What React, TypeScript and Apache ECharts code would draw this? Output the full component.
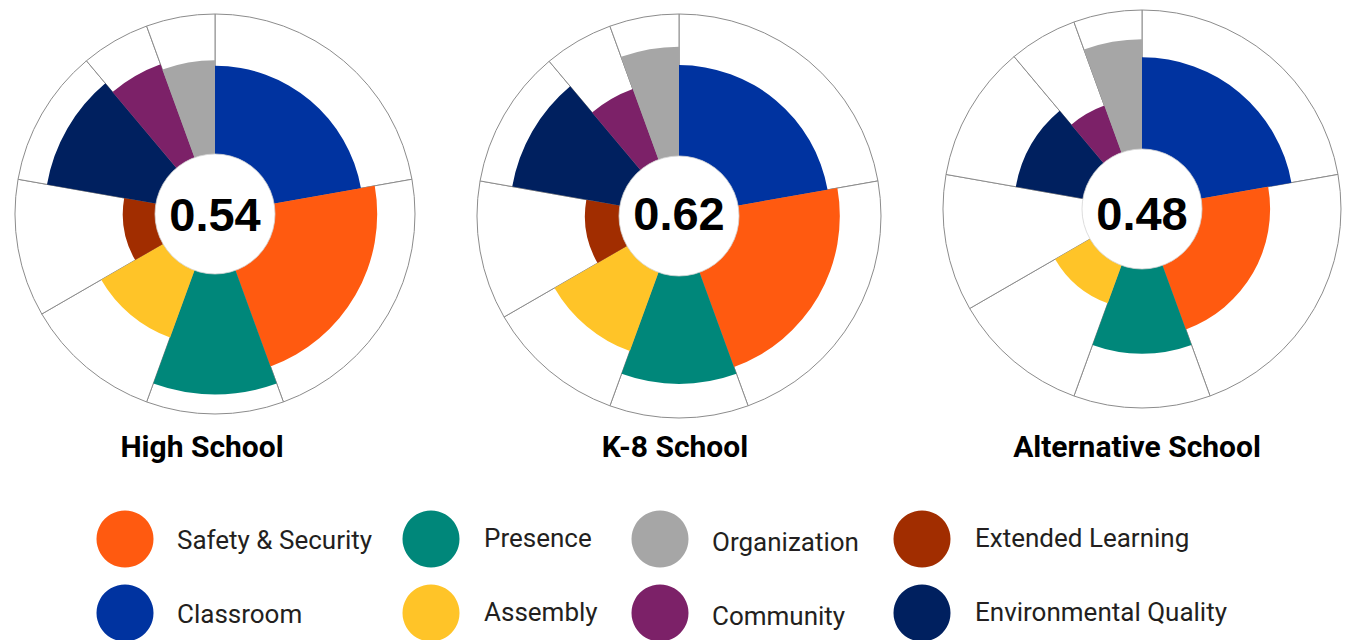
import React, { useEffect, useRef } from "react";
import * as echarts from "echarts";

// Sector order (clockwise from 12 o'clock)
const categories = [
  "Classroom",
  "Safety & Security",
  "Presence",
  "Assembly",
  "Extended Learning",
  "Environmental Quality",
  "Community",
  "Organization",
];
// Relative angular weight of each category (sum 18 -> 20° per unit)
const weights = [4, 4, 2, 2, 2, 2, 1, 1];
const colors = ["#0033A0", "#FF5A10", "#00877A", "#FFC428", "#A12D00", "#00205F", "#7C2168", "#A6A6A6"];

const schools = ["High School", "K-8 School", "Alternative School"];
const scores = [0.54, 0.62, 0.48];
// Radial fill (0 = inner circle, 1 = outer rim), per category in sector order
const highSchool = [0.63, 0.73, 0.86, 0.51, 0.23, 0.79, 0.71, 0.67];
const k8School = [0.64, 0.71, 0.76, 0.59, 0.24, 0.77, 0.53, 0.77];
const altSchool = [0.66, 0.49, 0.61, 0.29, 0.0, 0.49, 0.36, 0.79];
const schoolValues = [highSchool, k8School, altSchool];

// Legend order (column-major, 2 rows)
const legendOrder = [
  "Safety & Security",
  "Classroom",
  "Presence",
  "Assembly",
  "Organization",
  "Community",
  "Extended Learning",
  "Environmental Quality",
];

// layout
const centers = [
  [215, 214],
  [679, 216],
  [1142, 209],
];
const outerR = [200, 202, 199];
const innerR = 60;
const scoreDy = [0, -3, 4];
const titleX = [202, 675, 1137];
const titleY = 446;
const legendCircleX = [125, 431, 660, 922];
const legendTextX = [177, 484, 712, 975];
const legendRowY = [539, 613];
const legendTextDy = [1, -1, 3, -1];

function angleBounds() {
  const total = weights.reduce((a, b) => a + b, 0);
  const out: [number, number][] = [];
  let acc = 0;
  for (const w of weights) {
    const a0 = (acc / total) * 360;
    acc += w;
    const a1 = (acc / total) * 360;
    out.push([a0, a1]);
  }
  return out;
}

function makeSectorRender(outline: boolean) {
  return (params: any, api: any) => {
    const cs = params.coordSys;
    const cx = cs.cx;
    const cy = cs.cy;
    const v = api.value(0);
    const a0 = api.value(1);
    const a1 = api.value(2);
    const ci = api.value(3);
    const pOut = api.coord([v, (a0 + a1) / 2]);
    const r = Math.hypot(pOut[0] - cx, pOut[1] - cy);
    const q0 = api.coord([0, a0]);
    const q1 = api.coord([0, a1]);
    const r0 = Math.hypot(q0[0] - cx, q0[1] - cy);
    let s = Math.atan2(q0[1] - cy, q0[0] - cx);
    let e = Math.atan2(q1[1] - cy, q1[0] - cx);
    if (e <= s) e += Math.PI * 2;
    if (!outline && r - r0 < 0.5) return { type: "group", children: [] };
    return {
      type: "sector",
      shape: { cx, cy, r0: outline ? 0 : r0 - 1, r, startAngle: s, endAngle: e, clockwise: true },
      style: outline
        ? { fill: "#ffffff", stroke: "#8c8c8c", lineWidth: 1 }
        : { fill: colors[ci], stroke: null },
    };
  };
}

function centerRender(params: any, api: any) {
  const cs = params.coordSys;
  const cx = cs.cx;
  const cy = cs.cy;
  const idx = api.value(2);
  const q = api.coord([0, 0]);
  const r0 = Math.hypot(q[0] - cx, q[1] - cy);
  return {
    type: "group",
    children: [
      {
        type: "circle",
        shape: { cx, cy, r: r0 },
        style: { fill: "#ffffff", stroke: "#d4d4d4", lineWidth: 0.8 },
      },
      {
        type: "text",
        x: cx,
        y: cy + scoreDy[idx],
        style: {
          text: scores[idx].toFixed(2),
          fill: "#000000",
          font: "bold 47px 'Liberation Sans', Arial, sans-serif",
          align: "center",
          verticalAlign: "middle",
        },
      },
    ],
  };
}

export default function App() {
  const ref = useRef<HTMLDivElement>(null);

  useEffect(() => {
    document.body.style.margin = "0";
    if (!ref.current) return;
    const chart = echarts.init(ref.current, null, { renderer: "svg" });
    const bounds = angleBounds();

    const polar: any[] = [];
    const angleAxis: any[] = [];
    const radiusAxis: any[] = [];
    const series: any[] = [];

    schoolValues.forEach((vals, i) => {
      polar.push({ center: centers[i], radius: [innerR, outerR[i]] });
      angleAxis.push({
        polarIndex: i,
        type: "value",
        min: 0,
        max: 360,
        startAngle: 90,
        clockwise: true,
        axisLine: { show: false },
        axisTick: { show: false },
        axisLabel: { show: false },
        splitLine: { show: false },
      });
      radiusAxis.push({
        polarIndex: i,
        type: "value",
        min: 0,
        max: 1,
        axisLine: { show: false },
        axisTick: { show: false },
        axisLabel: { show: false },
        splitLine: { show: false },
      });
      series.push({
        type: "custom",
        coordinateSystem: "polar",
        polarIndex: i,
        silent: true,
        z: 1,
        renderItem: makeSectorRender(true),
        encode: { radius: 0, angle: 1 },
        data: categories.map((_, k) => [1, bounds[k][0], bounds[k][1], k]),
      });
      series.push({
        type: "custom",
        coordinateSystem: "polar",
        polarIndex: i,
        silent: true,
        z: 2,
        renderItem: makeSectorRender(false),
        encode: { radius: 0, angle: 1 },
        data: vals.map((v, k) => [v, bounds[k][0], bounds[k][1], k]),
      });
      series.push({
        type: "custom",
        coordinateSystem: "polar",
        polarIndex: i,
        silent: true,
        z: 3,
        renderItem: centerRender,
        encode: { radius: 0, angle: 1 },
        data: [[0, 0, i]],
      });
    });

    const graphics: any[] = [];
    schools.forEach((name, i) => {
      graphics.push({
        type: "text",
        x: titleX[i],
        y: titleY,
        style: {
          text: name,
          fill: "#000000",
          font: "bold 30px Roboto, sans-serif",
          align: "center",
          verticalAlign: "middle",
        },
      });
    });
    legendOrder.forEach((name, j) => {
      const col = Math.floor(j / 2);
      const row = j % 2;
      const ci = categories.indexOf(name);
      graphics.push({
        type: "circle",
        shape: { cx: legendCircleX[col], cy: legendRowY[row], r: 28.5 },
        style: { fill: colors[ci] },
      });
      graphics.push({
        type: "text",
        x: legendTextX[col],
        y: legendRowY[row] + legendTextDy[col],
        style: {
          text: name,
          fill: "#231f20",
          font: "26px Roboto, sans-serif",
          align: "left",
          verticalAlign: "middle",
        },
      });
    });

    chart.setOption({
      animation: false,
      backgroundColor: "#ffffff",
      polar,
      angleAxis,
      radiusAxis,
      series,
      graphic: graphics,
    });

    return () => chart.dispose();
  }, []);

  return <div ref={ref} style={{ width: 1348, height: 640 }} />;
}
